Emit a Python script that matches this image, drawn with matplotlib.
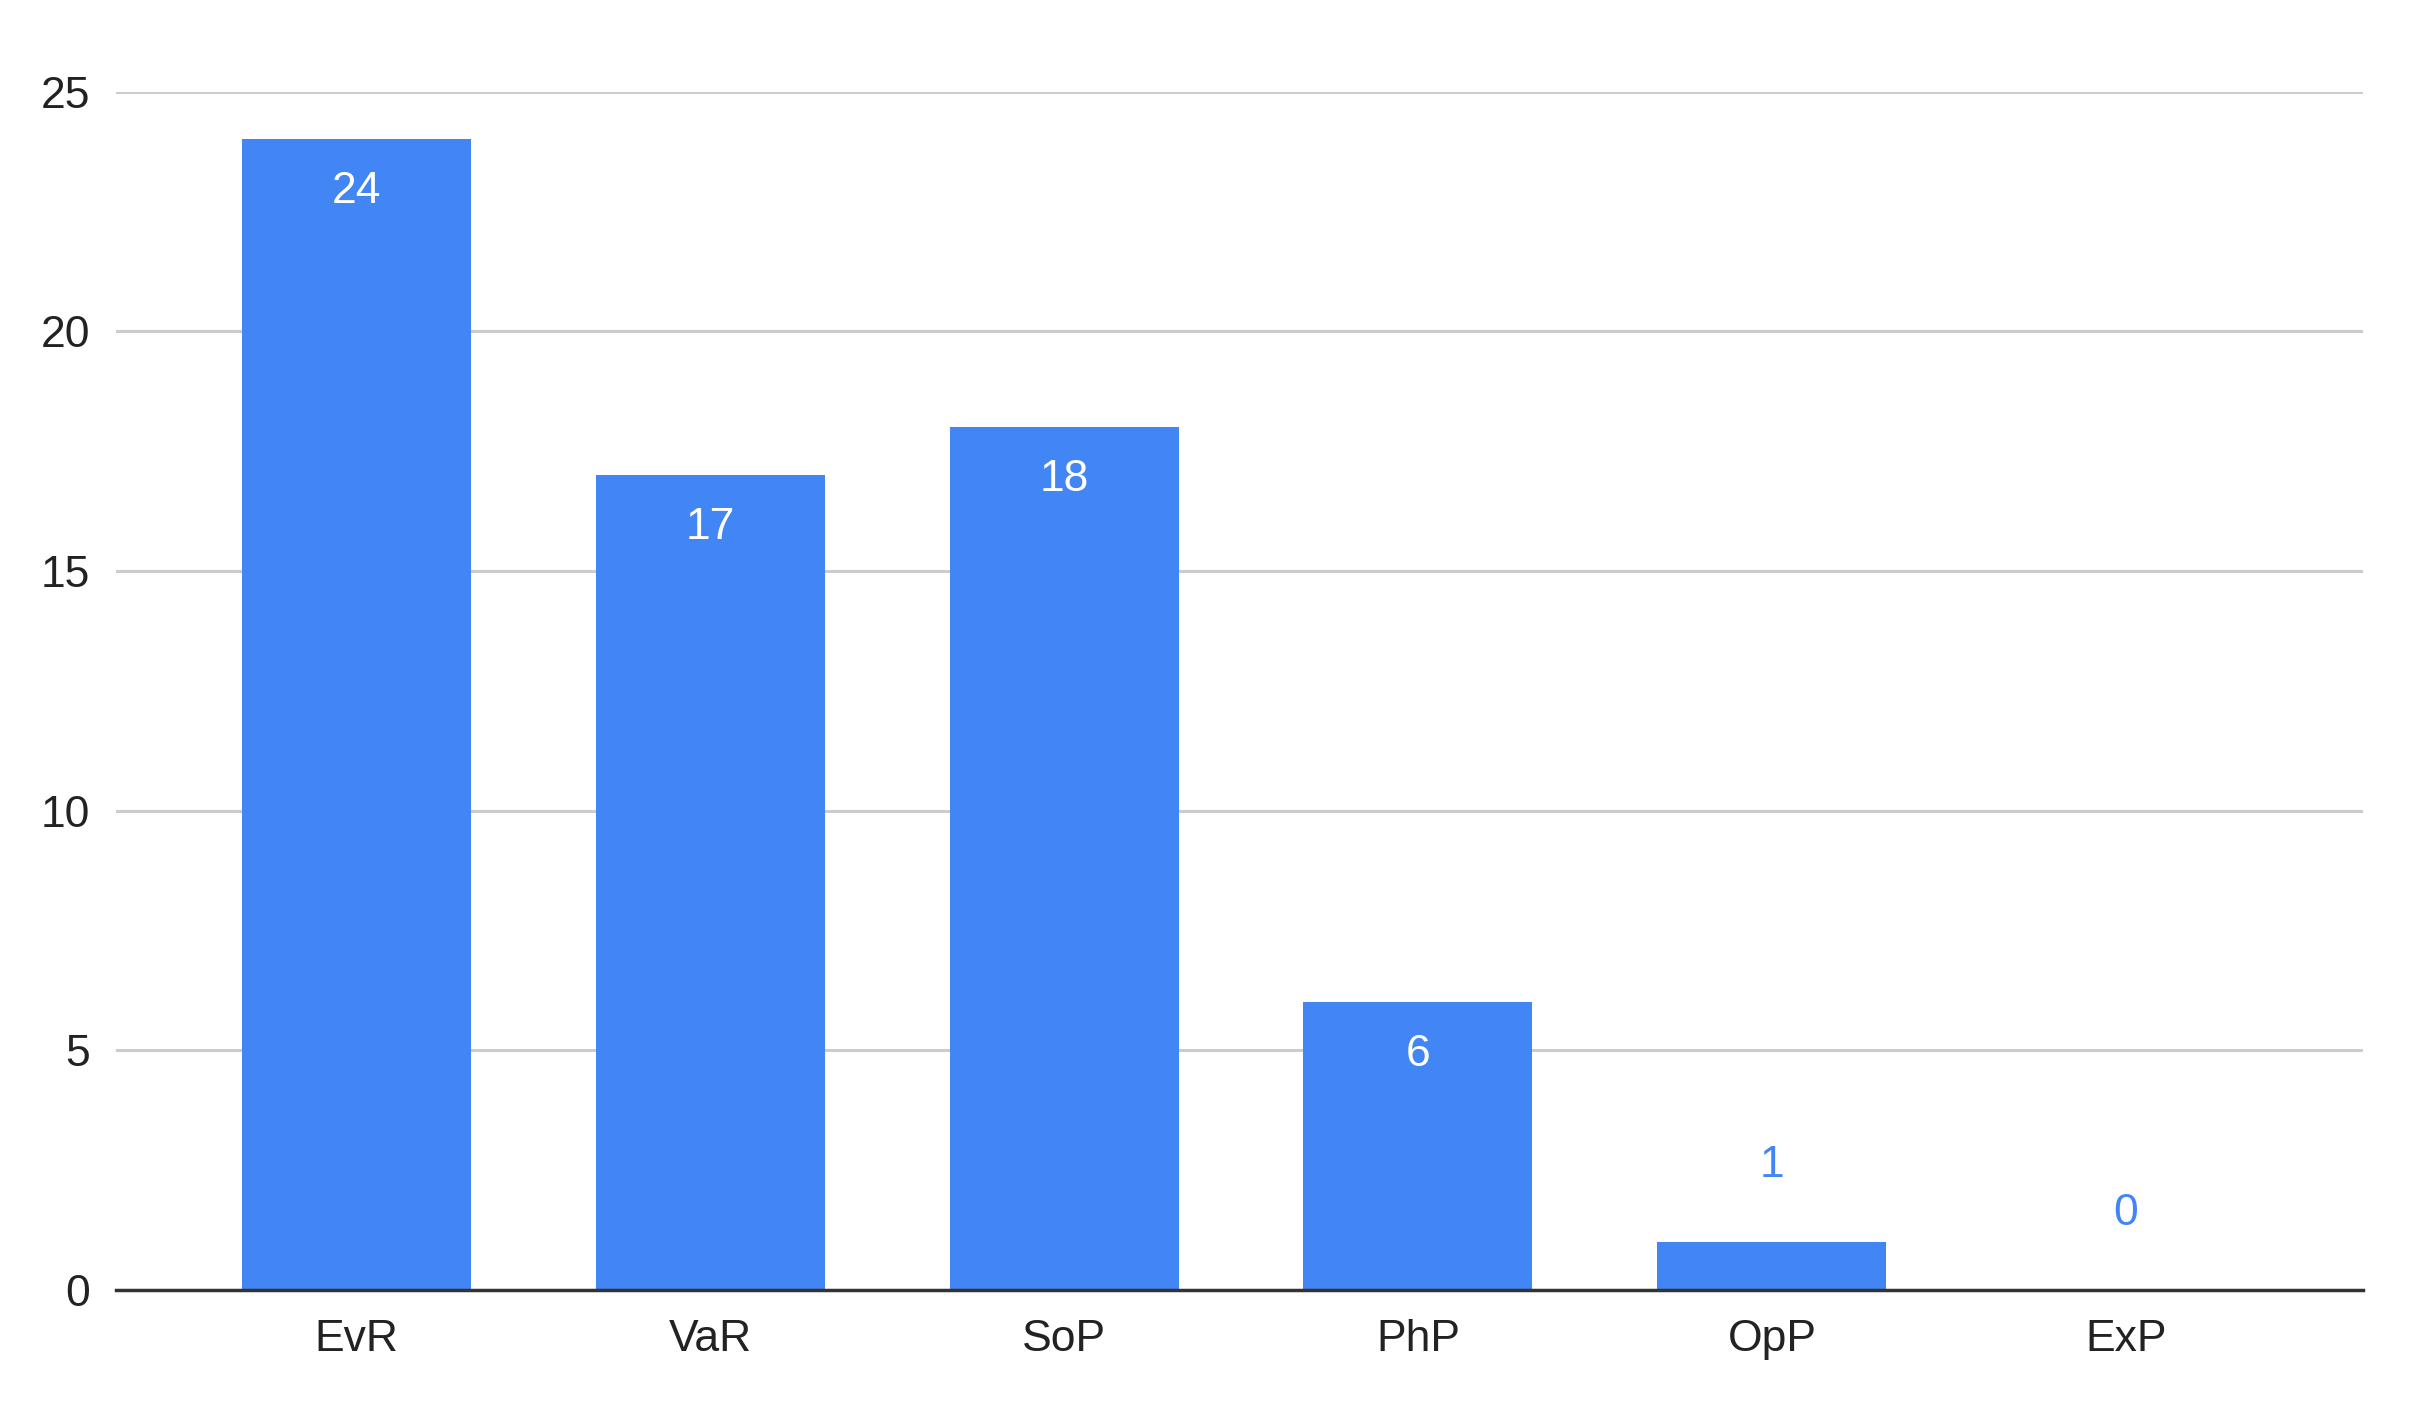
import matplotlib
matplotlib.use("Agg")
import matplotlib.pyplot as plt
from matplotlib.patches import FancyBboxPatch

categories = ["EvR", "VaR", "SoP", "PhP", "OpP", "ExP"]
values = [24, 17, 18, 6, 1, 0]
yticks = [0, 5, 10, 15, 20, 25]

plt.rcParams['font.family'] = ['Liberation Sans', 'DejaVu Sans']
BLUE = "#4285F4"

fig = plt.figure(figsize=(24.33, 14.02), dpi=100)
ax = fig.add_axes([0.0478, 0.0799, 0.9234, 0.8548])

x = list(range(len(categories)))
bars = ax.bar(x, values, width=0.647, color=BLUE, zorder=3)

for i, v in enumerate(values):
    if v >= 3:
        ax.annotate(str(v), xy=(i, v), xytext=(0, -37.5), textcoords="offset points",
                    ha="center", va="center", color="white", fontsize=32, zorder=4)
    else:
        ax.annotate(str(v), xy=(i, v), xytext=(0, 55), textcoords="offset points",
                    ha="center", va="center", color=BLUE, fontsize=32, zorder=4)

ax.set_xlim(-0.678, 5.67)
ax.set_ylim(0, 25)
ax.set_yticks(yticks)
ax.set_yticklabels([str(t) for t in yticks])
ax.set_xticks(x)
ax.set_xticklabels(categories)

ax.yaxis.grid(True, color="#cccccc", linewidth=2.2, zorder=0)
ax.set_axisbelow(True)
for s in ["top", "right", "left"]:
    ax.spines[s].set_visible(False)
ax.spines["bottom"].set_color("#333333")
ax.spines["bottom"].set_linewidth(2.5)
ax.spines["bottom"].set_zorder(5)

ax.tick_params(axis="y", length=0, pad=19, labelsize=32, labelcolor="#222222")
ax.tick_params(axis="x", length=0, pad=21, labelsize=32, labelcolor="#222222")

fig.savefig("out.png", dpi=100, facecolor="white")
